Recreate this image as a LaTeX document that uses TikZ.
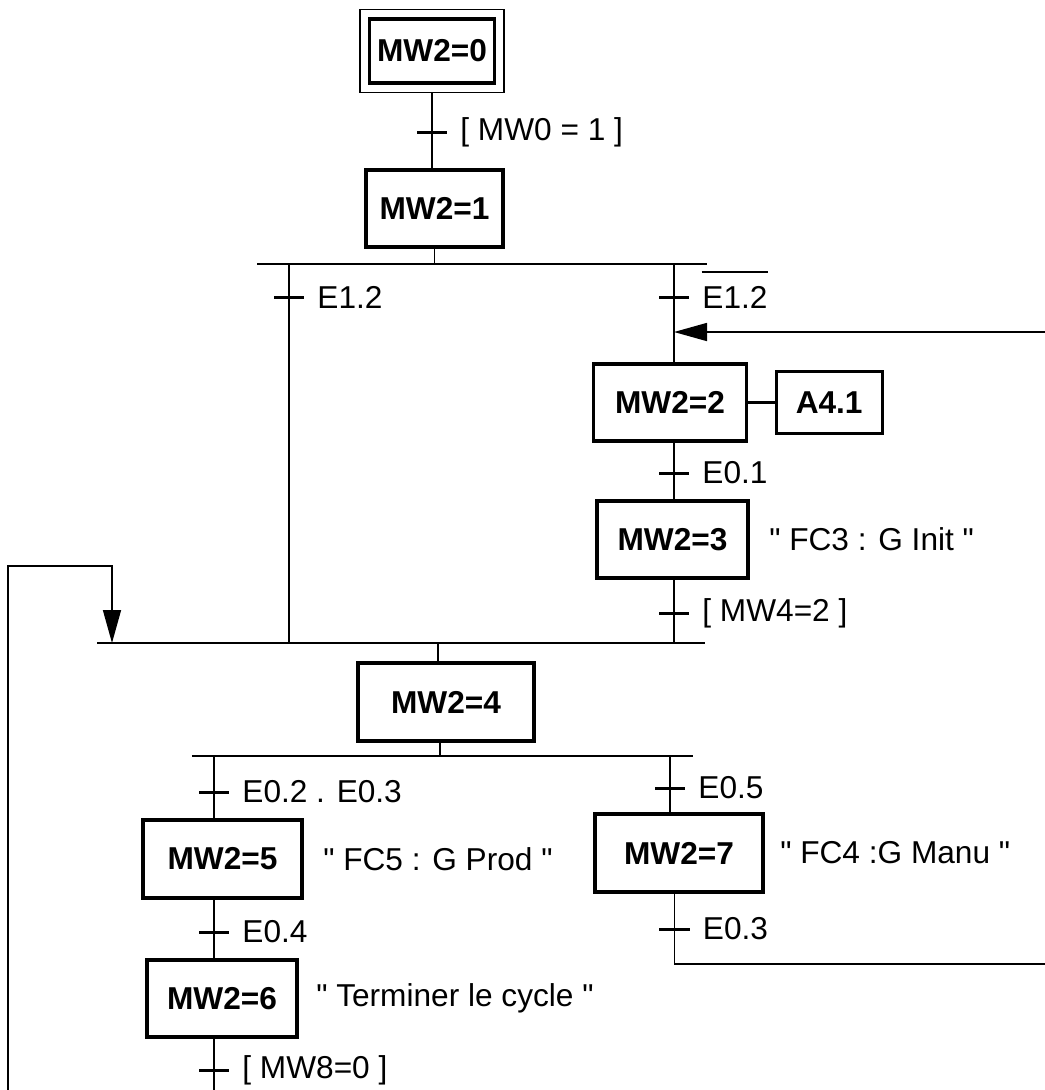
\documentclass[tikz,border=0pt]{standalone}
\usepackage{amsmath,amssymb}
\usepackage{fontspec}
\setmainfont{Liberation Sans}[Ligatures=TeXOff]
\usepackage{tikz}
\usetikzlibrary{arrows.meta,positioning,fit,calc}

\begin{document}
\begin{tikzpicture}[x=1cm, y=1cm, node distance=0.2cm, label distance=0.12cm,
    every node/.style={font=\fontsize{9}{11}\selectfont},
    etape/.style={draw, rectangle, line width=0.9pt, minimum height=0.77cm, inner sep=0, font=\fontsize{9}{11}\selectfont\bfseries},
    trans/.style={fill=black, rectangle, inner sep=0, minimum width=0.3cm, minimum height=0.03cm},
    recep/.style={inner sep=0},
    ligne/.style={line width=0.4pt},
    barre/.style={line width=0.6pt},
    fleche/.style={line width=0.45pt, -{Triangle[length=0.33cm, width=0.18cm]}}]
                    \useasboundingbox (0,0) rectangle (10.45,-10.9);
                    \node[etape, minimum width=1.25cm, minimum height=0.64cm] (s0) at (4.32,-0.51) {MW2=0};
                    \node[draw, ligne, fit=(s0), inner sep=0.08cm] (s0out) {};
                    \node[trans, label={[recep]right:{[ MW0 = 1 ]}}] (t01) at (4.32,-1.32) {};
                    \node[etape, minimum width=1.37cm] (s1) at (4.345,-2.085) {MW2=1};
                    \coordinate (d1g) at (2.57,-2.64);
                    \coordinate (d1d) at (7.07,-2.64);
                    \coordinate (c1g) at (0.97,-6.43);
                    \coordinate (c1d) at (7.05,-6.43);
                    \coordinate (d2g) at (1.92,-7.56);
                    \coordinate (d2d) at (6.93,-7.56);
                    \draw[barre] (d1g) -- (d1d);
                    \draw[barre] (c1g) -- (c1d);
                    \draw[barre] (d2g) -- (d2d);
                    \node[trans, label={[recep]right:E1.2}] (t12g) at (2.89,-2.97) {};
                    \node[trans, label={[recep, name=l12d]right:E1.2}] (t12d) at (6.74,-2.97) {};
                    \draw[line width=0.65pt] ([yshift=3.7pt]l12d.north west) -- ([yshift=3.7pt]l12d.north east);
                    \node[etape, minimum width=1.53cm] (s2) at (6.70,-4.025) {MW2=2};
                    \node[etape, minimum width=1.06cm, minimum height=0.62cm, right=0.265cm of s2] (a41) {A4.1};
                    \node[trans, label={[recep]right:E0.1}] (t01b) at (6.74,-4.73) {};
                    \node[etape, minimum width=1.51cm] (s3) at (6.725,-5.395) {MW2=3};
                    \node[recep, right=0.19cm of s3] (c3) {" FC3 : G Init "};
                    \node[trans, label={[recep]right:{[ MW4=2 ]}}] (t42) at (6.74,-6.13) {};
                    \coordinate (j1) at (4.38,-6.43);
                    \coordinate (j2) at (4.40,-7.56);
                    \node[etape, minimum width=1.76cm, minimum height=0.78cm] (s4) at (4.46,-7.02) {MW2=4};
                    \node[trans, label={[recep]right:E0.2 . E0.3}] (t23) at (2.14,-7.92) {};
                    \node[etape, minimum width=1.59cm, minimum height=0.78cm] (s5) at (2.225,-8.59) {MW2=5};
                    \node[recep, right=0.19cm of s5] (c5) {" FC5 : G Prod "};
                    \node[trans, label={[recep]right:E0.4}] (t04) at (2.14,-9.32) {};
                    \node[etape, minimum width=1.50cm] (s6) at (2.22,-9.985) {MW2=6};
                    \node[recep, right=0.17cm of s6] (c6) {" Terminer le cycle "};
                    \node[trans, label={[recep]right:{[ MW8=0 ]}}] (t80) at (2.14,-10.70) {};
                    \node[trans, label={[recep]right:E0.5}] (t05) at (6.70,-7.88) {};
                    \node[etape, minimum width=1.68cm, minimum height=0.78cm] (s7) at (6.79,-8.53) {MW2=7};
                    \node[recep, right=0.15cm of s7] (c7) {" FC4 :G Manu "};
                    \node[trans, label={[recep]right:E0.3}] (t03) at (6.745,-9.29) {};
                    \coordinate (fin) at (2.14,-10.9);
                    \coordinate (sortie) at (10.45,-9.64);
                    \coordinate (entree) at (10.45,-3.32);
                    \coordinate (depart) at (0.08,-10.9);
                    \coordinate (coude) at (1.12,-5.66);
                    \draw[ligne] (s0out.south) -- (t01.center) -- (t01 |- s1.north);
                    \draw[ligne] (s1.south) -- (s1.south |- d1g);
                    \draw[ligne] (d1g -| t12g) -- (t12g.center) -- (t12g |- c1g);
                    \draw[ligne] (d1g -| t12d) -- (t12d.center) -- (t12d |- s2.north);
                    \draw[barre] (s2) -- (a41);
                    \draw[ligne] (s2.south -| t01b) -- (t01b.center) -- (t01b |- s3.north);
                    \draw[ligne] (s3.south -| t42) -- (t42.center) -- (t42 |- c1g);
                    \draw[ligne] (j1) -- (j1 |- s4.north);
                    \draw[ligne] (s4.south -| j2) -- (j2);
                    \draw[ligne] (d2g -| t23) -- (t23.center) -- (t23 |- s5.north);
                    \draw[ligne] (s5.south -| t04) -- (t04.center) -- (t04 |- s6.north);
                    \draw[ligne] (s6.south -| t80) -- (t80.center) -- (fin);
                    \draw[ligne] (d2g -| t05) -- (t05.center) -- (t05 |- s7.north);
                    \draw[ligne] (s7.south -| t03) -- (t03.center) -- (t03 |- sortie) -- (sortie);
                    \draw[fleche] (entree) -- (entree -| t12d);
                    \draw[fleche] (depart) |- (coude) -- (coude |- c1g);
                \end{tikzpicture}
\end{document}
